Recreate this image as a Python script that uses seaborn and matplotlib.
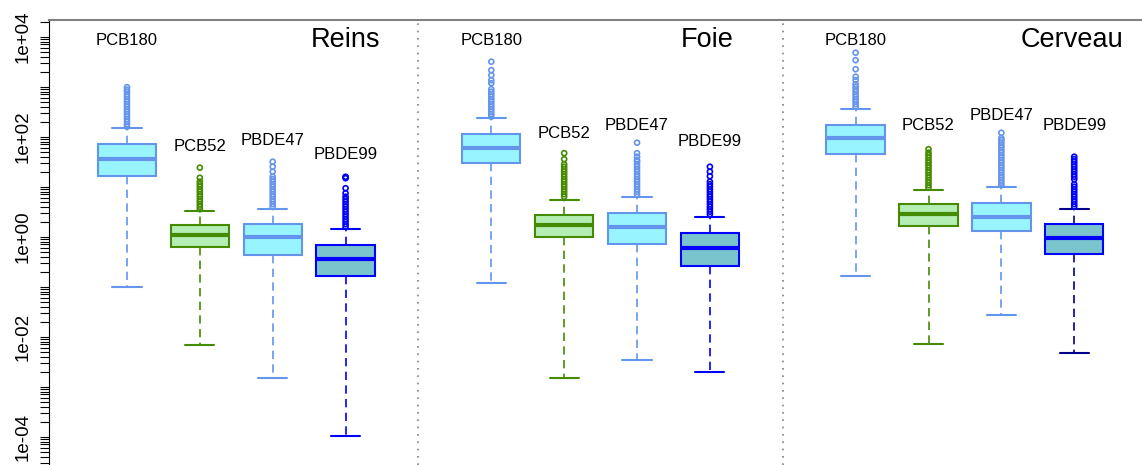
import numpy as np
import pandas as pd
import matplotlib
matplotlib.use("Agg")
import matplotlib.pyplot as plt
import seaborn as sns

organs = ["Reins", "Foie", "Cerveau"]
compounds = ["PCB180", "PCB52", "PBDE47", "PBDE99"]

# box statistics (organ x compound order)
q1 = [16.6, 0.631, 0.437, 0.161,
      29.4, 0.986, 0.715, 0.263,
      45.1, 1.66, 1.28, 0.457]
med = [36.3, 1.10, 0.973, 0.353,
       59.4, 1.69, 1.56, 0.586,
       95.5, 2.88, 2.44, 0.929]
q3 = [71.4, 1.69, 1.79, 0.682,
      112, 2.75, 3.02, 1.17,
      174, 4.51, 4.72, 1.77]
whislo = [0.0973, 0.00673, 0.00149, 1.03e-4,
          0.120, 0.00149, 0.00347, 0.0020,
          0.161, 0.00705, 0.0272, 0.00472]
whishi = [152, 3.27, 3.63, 1.43,
          233, 5.50, 6.22, 2.44,
          363, 8.59, 9.73, 3.63]

outliers = [
    # Reins
    [158, 178, 200, 224, 251, 282, 316, 355, 398, 447, 501, 562, 631, 708, 794, 871, 977],
    [3.55, 3.98, 4.47, 5.01, 5.62, 6.31, 7.08, 7.94, 8.91, 10.0, 11.2, 12.6, 15.1, 24.0],
    [3.98, 4.47, 5.01, 5.62, 6.31, 7.08, 7.94, 8.91, 10.0, 11.2, 12.6, 14.1, 15.8, 20.0, 25.1, 31.6],
    [1.58, 1.78, 2.00, 2.24, 2.51, 2.82, 3.16, 3.55, 3.98, 4.47, 5.01, 5.62, 6.31, 7.41, 9.33, 14.8, 15.5, 15.8],
    # Foie
    [251, 282, 316, 355, 398, 447, 501, 562, 631, 708, 794, 891, 1175, 1349, 1698, 2138, 3162],
    [6.31, 7.08, 7.94, 8.91, 10.0, 11.2, 12.6, 14.1, 15.8, 17.8, 20.0, 22.4, 25.1, 28.2, 35.5, 46.8],
    [7.08, 7.94, 8.91, 10.0, 11.2, 12.6, 14.1, 15.8, 17.8, 20.0, 22.4, 25.1, 28.2, 31.6, 33.9, 39.8, 46.8, 75.9],
    [2.82, 3.16, 3.55, 3.98, 4.47, 5.01, 5.62, 6.31, 7.08, 7.94, 8.91, 10.0, 11.2, 12.6, 16.2, 20.0, 25.1],
    # Cerveau
    [398, 447, 501, 562, 631, 708, 794, 891, 1000, 1122, 1349, 1585, 2239, 3388, 4786],
    [9.55, 10.7, 12.0, 13.5, 15.1, 17.0, 19.1, 21.4, 24.0, 26.9, 30.2, 33.9, 38.0, 42.7, 47.9, 56.2],
    [10.7, 12.0, 13.5, 15.1, 17.0, 19.1, 21.4, 24.0, 26.9, 30.2, 33.9, 38.0, 42.7, 47.9, 53.7,
     60.3, 67.6, 75.9, 85.1, 93.3, 120],
    [3.98, 4.47, 5.01, 5.62, 6.31, 7.08, 7.94, 8.91, 10.0, 11.2, 14.1, 15.8, 17.8, 20.0, 22.4,
     25.1, 28.2, 31.6, 35.5, 39.8],
]

# height of the compound labels above each box
label_y = [8590, 63.1, 85.9, 44.5,
           8590, 117, 171, 79.4,
           8590, 171, 263, 164]

face = {"PCB180": "#98F5FF", "PCB52": "#B4EEB4", "PBDE47": "#98F5FF", "PBDE99": "#7AC5CD"}
edge = {"PCB180": "#6495ED", "PCB52": "#458B00", "PBDE47": "#6495ED", "PBDE99": "#0000FF"}

sns.set_theme(style="white")
plt.rcParams["font.family"] = ["Liberation Sans", "DejaVu Sans"]

fig = plt.figure(figsize=(11.42, 4.65), dpi=100)
ax = fig.add_axes([49 / 1142, 0, 1 - 49 / 1142, 1 - 20 / 465])
ax.set_yscale("log")

positions = [1, 2, 3, 4, 6, 7, 8, 9, 11, 12, 13, 14]
comp_of_box = compounds * len(organs)

stats = []
for i in range(len(positions)):
    stats.append(dict(q1=q1[i], med=med[i], q3=q3[i],
                      whislo=whislo[i], whishi=whishi[i], fliers=[]))

art = ax.bxp(stats, positions=positions, widths=0.8, capwidths=0.4,
             patch_artist=True, showfliers=False, manage_ticks=False)

for i, comp in enumerate(comp_of_box):
    ec = edge[comp]
    wc = "#00008B" if i == 11 else ec
    box = art["boxes"][i]
    box.set_facecolor(face[comp])
    box.set_edgecolor(ec)
    box.set_linewidth(1.5)
    box.set_zorder(2)
    m = art["medians"][i]
    m.set_color(ec)
    m.set_linewidth(3.0)
    m.set_solid_capstyle("butt")
    m.set_zorder(2.5)
    for w in art["whiskers"][2 * i:2 * i + 2]:
        w.set_color(wc)
        w.set_linewidth(1.2)
        w.set_linestyle((0, (5, 3.2)))
    for c in art["caps"][2 * i:2 * i + 2]:
        c.set_color(wc)
        c.set_linewidth(1.5)

rows = []
for i, vals in enumerate(outliers):
    for v in vals:
        rows.append({"pos": positions[i], "value": v, "compound": comp_of_box[i]})
df_out = pd.DataFrame(rows)

for comp in compounds:
    sub = df_out[df_out["compound"] == comp]
    sns.scatterplot(data=sub, x="pos", y="value", ax=ax, marker="o", s=13,
                    color=edge[comp], facecolor="none", edgecolor=edge[comp],
                    linewidth=1.2, legend=False, zorder=3)

for i, comp in enumerate(comp_of_box):
    ax.text(positions[i], label_y[i], comp, ha="center", va="center",
            fontsize=12, color="black")

title_x = [4.47, 9.33, 14.67]
for x, name in zip(title_x, organs):
    ax.text(x, 8590, name, ha="right", va="center", fontsize=19.5, color="black")

for x in [5, 10]:
    ax.axvline(x, color="#808080", linewidth=1.2, linestyle=(0, (1, 3.4)), zorder=1)

ax.set_xlim(-0.07, 14.93)
ylo, yhi = 10 ** -4.566, 10 ** 4.334
yt, yl = [], []
for e in range(-5, 5):
    for mm in range(1, 10):
        t = mm * 10.0 ** e
        if ylo <= t <= yhi:
            yt.append(t)
            yl.append(f"{10.0 ** e:.0e}" if (mm == 1 and e % 2 == 0) else "")
ax.set_yticks(yt, yl)
ax.yaxis.set_minor_locator(matplotlib.ticker.NullLocator())
ax.set_ylim(ylo, yhi)
ax.set_xticks([])
ax.set_xlabel("")
ax.set_ylabel("")

ax.tick_params(axis="y", which="major", left=True, length=6.3, width=0.8,
               color="black", direction="out", pad=6, labelsize=13.5,
               labelrotation=90, labelcolor="black")
for lab in ax.get_yticklabels():
    lab.set_va("center")

ax.spines["right"].set_visible(False)
ax.spines["bottom"].set_visible(False)
ax.spines["top"].set_color("#808080")
ax.spines["top"].set_linewidth(1.5)
ax.spines["left"].set_color("black")
ax.spines["left"].set_linewidth(0.8)

fig.savefig("out.png", dpi=100)
